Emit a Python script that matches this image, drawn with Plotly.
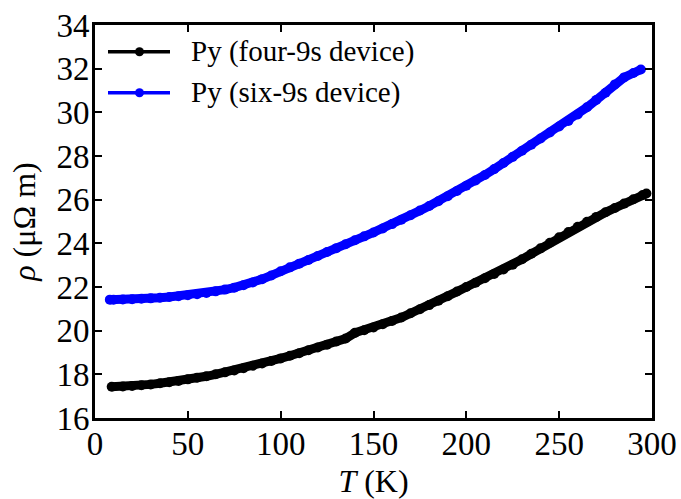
import plotly.graph_objects as go

# ---- data ----
T_four = [9, 15, 20, 25, 30, 35, 40, 45, 50, 55, 60, 65, 70, 75, 80, 85, 90, 95, 100,
          105, 110, 115, 120, 125, 130, 135, 140, 145, 150, 155, 160, 165, 170, 175, 180,
          185, 190, 195, 200, 205, 210, 215, 220, 225, 230, 235, 240, 245, 250, 255, 260,
          265, 270, 275, 280, 285, 290, 295, 297]
rho_four = [17.43, 17.44, 17.47, 17.50, 17.54, 17.59, 17.64, 17.70, 17.77, 17.84, 17.91,
            18.00, 18.09, 18.18, 18.28, 18.39, 18.50, 18.61, 18.73,
            18.85, 18.97, 19.10, 19.23, 19.36, 19.50, 19.64, 19.90, 20.02, 20.15, 20.29,
            20.44, 20.60, 20.80, 20.98, 21.17, 21.37, 21.58, 21.79, 22.00, 22.20, 22.40,
            22.60, 22.80, 23.02, 23.27, 23.52, 23.77, 24.03, 24.28, 24.52, 24.76, 24.99,
            25.21, 25.42, 25.62, 25.82, 26.02, 26.21, 26.28]

T_six = [8, 10, 15, 20, 25, 30, 35, 40, 45, 50, 55, 60, 65, 70, 75, 80, 85, 90, 95, 100,
         105, 110, 115, 120, 125, 130, 135, 140, 145, 150, 155, 160, 165, 170, 175, 180,
         185, 190, 195, 200, 205, 210, 215, 220, 225, 230, 235, 240, 245, 250, 255, 260,
         265, 270, 275, 280, 285, 290, 294]
rho_six = [21.42, 21.42, 21.43, 21.44, 21.46, 21.48, 21.51, 21.54, 21.58, 21.62, 21.67,
           21.73, 21.80, 21.88, 21.97, 22.08, 22.21, 22.36, 22.53, 22.72,
           22.90, 23.07, 23.24, 23.42, 23.60, 23.78, 23.96, 24.14, 24.32, 24.50, 24.68,
           24.88, 25.08, 25.29, 25.50, 25.71, 25.93, 26.16, 26.40, 26.64, 26.88, 27.13,
           27.40, 27.68, 27.96, 28.24, 28.52, 28.80, 29.08, 29.35, 29.60, 29.90, 30.23,
           30.57, 30.90, 31.28, 31.60, 31.80, 31.96]

series_names = ["Py (four-9s device)", "Py (six-9s device)"]
series_colors = ["#000000", "#0000ff"]

x_ticks = [0, 50, 100, 150, 200, 250, 300]
y_ticks = [16, 18, 20, 22, 24, 26, 28, 30, 32, 34]

FONT = "Liberation Serif"

fig = go.Figure()
for T, rho, name, col in [(T_four, rho_four, series_names[0], series_colors[0]),
                          (T_six, rho_six, series_names[1], series_colors[1])]:
    fig.add_trace(go.Scatter(
        x=T, y=rho, name=name, mode="lines+markers",
        line=dict(color=col, width=9),
        marker=dict(color=col, size=10, line=dict(width=0)),
        showlegend=False,
    ))

# manual legend (long sample line like the reference)
W, H = 557.0, 393.0
L, B = 95.0, 418.0
def px(x):
    return (x - L) / W
def py(y):
    return (B - y) / H

shapes = []
annotations = []
for i, (name, col) in enumerate(zip(series_names, series_colors)):
    yy = 51.7 + i * 41.0
    shapes.append(dict(type="line", xref="paper", yref="paper",
                       x0=px(108), x1=px(170), y0=py(yy), y1=py(yy),
                       line=dict(color=col, width=3.5)))
    shapes.append(dict(type="circle", xref="paper", yref="paper",
                       x0=px(139.5 - 4.5), x1=px(139.5 + 4.5),
                       y0=py(yy + 4.5), y1=py(yy - 4.5),
                       fillcolor=col, line=dict(color=col, width=0)))
    annotations.append(dict(text=name, xref="paper", yref="paper",
                            x=px(189), y=py(yy), xanchor="left", yanchor="middle",
                            showarrow=False, font=dict(family=FONT, size=29, color="black")))

axis_common = dict(
    showline=True, linecolor="black", linewidth=3, mirror="ticks",
    ticks="inside", ticklen=7, tickwidth=1.5, tickcolor="black",
    showgrid=False, zeroline=False,
    tickfont=dict(family=FONT, size=33, color="black"),
)

fig.update_layout(
    width=681, height=499,
    margin=dict(l=95, r=29, t=25, b=81, autoexpand=False),
    paper_bgcolor="white", plot_bgcolor="white",
    font=dict(family=FONT, color="black"),
    xaxis=dict(range=[0, 300], tickvals=x_ticks, ticktext=[str(v) for v in x_ticks],
               ticklabelstandoff=-6,
               title=dict(text="<i>T</i> (K)", font=dict(family=FONT, size=32, color="black"),
                          standoff=12),
               automargin=False, **axis_common),
    yaxis=dict(range=[16, 34], tickvals=y_ticks, ticktext=[str(v) for v in y_ticks],
               ticklabelstandoff=-4,
               title=dict(text="<i>ρ</i> (μΩ m)", font=dict(family=FONT, size=32, color="black"),
                          standoff=12),
               automargin=False, **axis_common),
    shapes=shapes, annotations=annotations,
    showlegend=False,
)

fig.write_html("out.html")
